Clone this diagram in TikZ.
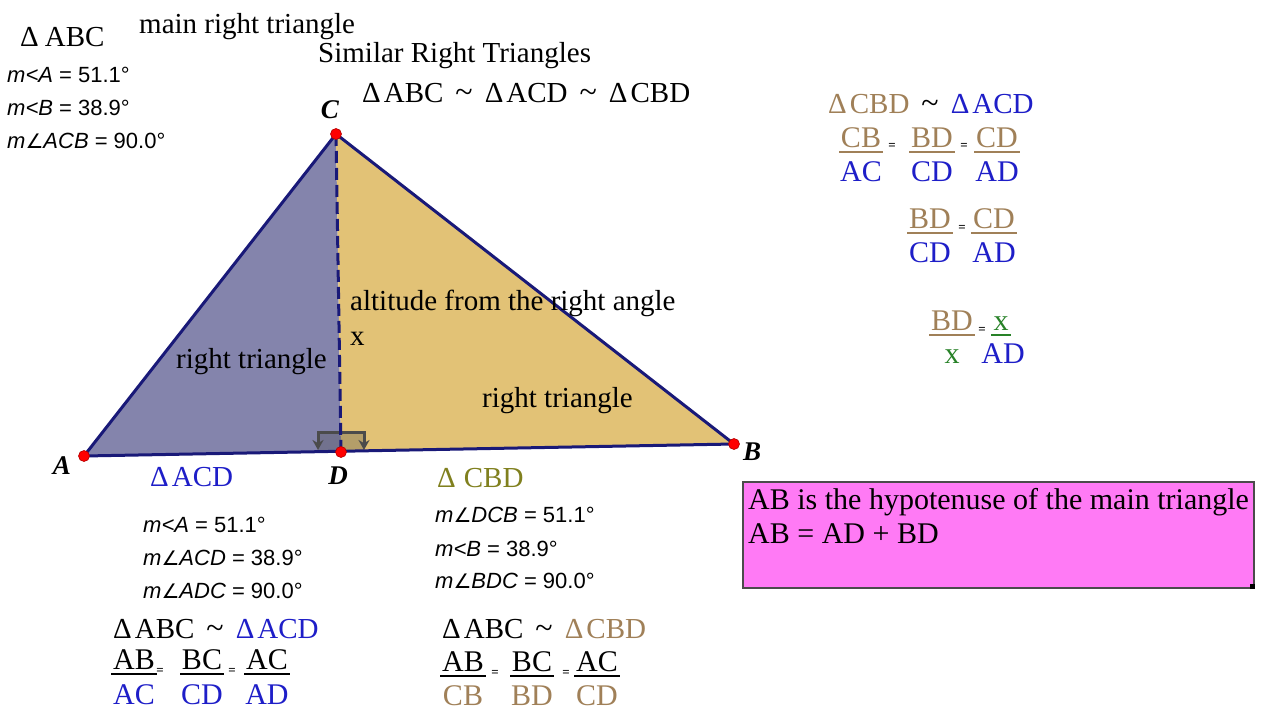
\documentclass[tikz,border=0pt]{standalone}
\usepackage{fontspec}
\setmainfont{Liberation Serif}
\newfontfamily\arialf{Liberation Sans}
\newfontfamily\angf{DejaVu Sans}
\usetikzlibrary{arrows.meta}
\definecolor{edgec}{RGB}{25,25,120}
\definecolor{lfill}{RGB}{132,132,172}
\definecolor{rfill}{RGB}{226,194,118}
\definecolor{bluet}{RGB}{30,30,200}
\definecolor{tant}{RGB}{160,128,88}
\definecolor{olivet}{RGB}{128,128,30}
\definecolor{greent}{RGB}{40,130,40}
\definecolor{pinkb}{RGB}{255,122,245}
\definecolor{markc}{RGB}{75,75,75}
\newcommand\mang{{\angf\itshape\fontsize{20}{22}\selectfont ∠}}
\newcommand\Dl{Δ\hspace{3pt}}
\newcommand\simm{\hspace{12pt}{\fontsize{32}{34}\selectfont\~{}}\hspace{12pt}}
% fraction: #1 name, #2 centre x, #3 numerator baseline, #4 denominator baseline,
% #5 numerator colour, #6 numerator, #7 denominator colour, #8 denominator
\newcommand\frc[8]{%
  \node[fr,text=#5] (#1n) at (#2,#3) {#6};
  \node[fr,text=#7] (#1d) at (#2,#4) {#8};
  \draw[bar,#5] ([yshift=-5pt,xshift=-1.5pt]#1n.base west) -- ([yshift=-5pt,xshift=1.5pt]#1n.base east);
}
\begin{document}
\begin{tikzpicture}[x=1pt,y=-1pt,
  txt/.style={inner sep=0pt, anchor=base west, font=\fontsize{29}{34}\selectfont},
  meas/.style={inner sep=0pt, anchor=base west, font=\arialf\fontsize{22}{26}\selectfont},
  fr/.style={inner sep=0pt, anchor=base, font=\fontsize{30}{34}\selectfont},
  eqs/.style={inner sep=0pt, anchor=center, font=\bfseries\fontsize{13}{13}\selectfont},
  bar/.style={line width=1.5pt},
  vlab/.style={inner sep=0pt, font=\bfseries\itshape\fontsize{27}{30}\selectfont},
  dot/.style={circle, fill=red, draw=red!70!black, line width=0.6pt, inner sep=0pt, minimum size=11pt},
  edge/.style={draw=edgec, line width=3pt, line join=round},
  ramark/.style={markc, line width=3pt, -{Stealth[length=10pt,width=11pt]}},
]
\useasboundingbox[fill=white] (0,0) rectangle (1280,720);

% vertices
\coordinate (A) at (84,456);
\coordinate (B) at (734,444);
\coordinate (C) at (336,134);
\coordinate (D) at (341,452);

% fills
\fill[lfill] (A) -- (C) -- (D) -- cycle;
\fill[rfill] (C) -- (B) -- (D) -- cycle;

% right angle mark
\fill[markc, opacity=0.3] (318,432) rectangle (364,451);
\draw[ramark] (341,432) -- (318,432) -- (318,450);
\draw[ramark] (341,432) -- (364,432) -- (364,450);

% edges
\draw[edge] (A) -- (C) -- (B) -- cycle;
\draw[edgec, line width=3pt, dash pattern=on 12pt off 5pt] (C) -- (D);

% vertex dots
\node[dot] (dA) at (A) {};
\node[dot] (dB) at (B) {};
\node[dot] (dC) at (C) {};
\node[dot] (dD) at (D) {};

\node[vlab] (lA) at (62,466) {A};
\node[vlab] (lB) at (752,452) {B};
\node[vlab] (lC) at (330,110) {C};
\node[vlab] (lD) at (338,476) {D};

% top-left
\node[txt] (tabc) at (20,46) {Δ\hspace{6pt}ABC};
\node[txt] (tmain) at (139,33) {main right triangle};
\node[meas] (m1) at (7,82) {\itshape m<A\upshape\ = 51.1°};
\node[meas] (m2) at (7,115) {\itshape m<B\upshape\ = 38.9°};
\node[meas] (m3) at (7,148) {\itshape m\mang ACB\upshape\ = 90.0°};

% title
\node[txt] (tsim) at (318,62) {Similar Right Triangles};
\node[txt] (tchain) at (362,102) {\Dl ABC\simm\Dl ACD\simm\Dl CBD};

% triangle texts
\node[txt] (talt) at (350,310) {altitude from the right angle};
\node[txt] (tx) at (350,345) {x};
\node[txt] (trt1) at (176,368) {right triangle};
\node[txt] (trt2) at (482,407) {right triangle};

\node[txt, text=bluet] (tacd) at (150,486) {\Dl ACD};
\node[txt, text=olivet] (tcbd) at (437,487) {Δ\hspace{8pt}CBD};

% bottom-left measures
\node[meas] (b1) at (143,532) {\itshape m<A\upshape\ = 51.1°};
\node[meas] (b2) at (143,565) {\itshape m\mang ACD\upshape\ = 38.9°};
\node[meas] (b3) at (143,598) {\itshape m\mang ADC\upshape\ = 90.0°};
% bottom-right measures
\node[meas] (c1) at (435,522) {\itshape m\mang DCB\upshape\ = 51.1°};
\node[meas] (c2) at (435,556) {\itshape m<B\upshape\ = 38.9°};
\node[meas] (c3) at (435,588) {\itshape m\mang BDC\upshape\ = 90.0°};

% bottom-left similarity
\node[txt] (s1) at (113,638) {\Dl ABC\simm\textcolor{bluet}{\Dl ACD}};
\frc{p1}{134}{669}{704}{black}{AB}{bluet}{AC}
\frc{p2}{202}{669}{704}{black}{BC}{bluet}{CD}
\frc{p3}{267}{669}{704}{black}{AC}{bluet}{AD}
\node[eqs] (e1) at (160,671) {=};
\node[eqs] (e2) at (232,671) {=};

% bottom-right similarity
\node[txt] (s2) at (442,638) {\Dl ABC\simm\textcolor{tant}{\Dl CBD}};
\frc{q1}{463}{671}{705}{black}{AB}{tant}{CB}
\frc{q2}{532}{671}{705}{black}{BC}{tant}{BD}
\frc{q3}{597}{671}{705}{black}{AC}{tant}{CD}
\node[eqs] (e3) at (495,673) {=};
\node[eqs] (e4) at (566,673) {=};

% top-right
\node[txt] (s3) at (828,113) {\textcolor{tant}{\Dl CBD}\simm\textcolor{bluet}{\Dl ACD}};
\frc{r1}{861}{147}{181}{tant}{CB}{bluet}{AC}
\frc{r2}{932}{147}{181}{tant}{BD}{bluet}{CD}
\frc{r3}{997}{147}{181}{tant}{CD}{bluet}{AD}
\node[eqs] (e5) at (892,146) {=};
\node[eqs] (e6) at (964,146) {=};

\frc{u1}{930}{228}{262}{tant}{BD}{bluet}{CD}
\frc{u2}{994}{228}{262}{tant}{CD}{bluet}{AD}
\node[eqs] (e7) at (962,228) {=};

\frc{v1}{952}{330}{363}{tant}{BD}{greent}{x}
\node[fr, text=greent] (v2n) at (1001,330) {x};
\node[fr, text=bluet] (v2d) at (1003,363) {AD};
\draw[bar,greent] ([yshift=-5pt,xshift=-2pt]v2n.base west) -- ([yshift=-5pt,xshift=2pt]v2n.base east);
\node[eqs] (e8) at (982,330) {=};

% pink box
\node[draw=markc, line width=1.5pt, fill=pinkb, minimum width=511pt, minimum height=106pt, inner sep=0pt, anchor=north west] (pbox) at (742,481) {};
\fill[black] ([xshift=-5pt,yshift=5pt]pbox.south east) rectangle (pbox.south east);
\node[txt, font=\fontsize{30}{34}\selectfont] (pb1) at (748,509) {AB is the hypotenuse of the main triangle};
\node[txt, font=\fontsize{30}{34}\selectfont] (pb2) at (748,543) {AB = AD + BD};
\end{tikzpicture}
\end{document}
